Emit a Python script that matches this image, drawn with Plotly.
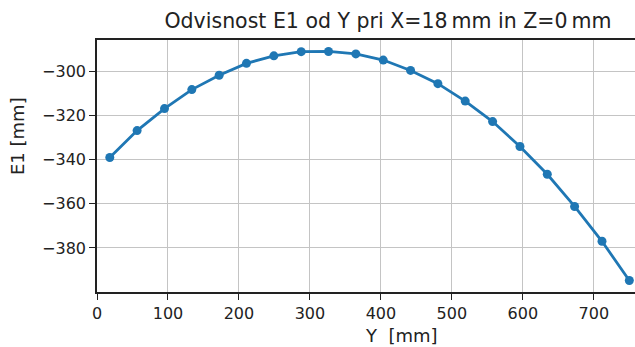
import plotly.graph_objects as go

# Positions along Y [mm] and the measured E1 [mm] values
y_pos = [18.0, 56.5, 95.1, 133.6, 172.1, 210.6, 249.2, 287.7, 326.2, 364.7,
         403.3, 441.8, 480.3, 518.8, 557.4, 595.9, 634.4, 672.9, 711.5, 750.0]
e1 = [-339.0, -326.8, -316.8, -308.2, -301.7, -296.3, -292.9, -291.0, -290.9, -292.0,
      -294.8, -299.5, -305.5, -313.4, -322.7, -334.0, -346.6, -361.2, -377.0, -394.8]

x_ticks = [0, 100, 200, 300, 400, 500, 600, 700]
y_ticks = [-300, -320, -340, -360, -380]

title_text = "Odvisnost E1 od Y pri X=18\u2009mm in Z=0\u2009mm"
x_label = "Y\u00a0 [mm]"
y_label = "E1 [mm]"

FONT = "DejaVu Sans"
BLUE = "#1f77b4"

fig = go.Figure(
    go.Scatter(
        x=y_pos, y=e1, mode="lines+markers",
        line=dict(color=BLUE, width=2.8),
        marker=dict(color=BLUE, size=9),
        cliponaxis=False,
    )
)

fig.update_layout(
    width=635, height=347,
    margin=dict(l=97, r=0, t=40, b=55),
    paper_bgcolor="white", plot_bgcolor="white",
    showlegend=False,
    font=dict(family=FONT, size=16, color="#222"),
    title=dict(text=title_text, x=388 / 635, y=1 - 21 / 347,
               xanchor="center", yanchor="middle",
               font=dict(family=FONT, size=20.5, color="#222")),
    annotations=[
        dict(text=x_label, xref="paper", yref="paper", x=(401 - 97) / 538, y=(292 - 335) / 252,
             xanchor="center", yanchor="middle", showarrow=False,
             font=dict(family=FONT, size=18, color="#222")),
        dict(text=y_label, xref="paper", yref="paper", x=(17 - 97) / 538, y=(292 - 136) / 252,
             xanchor="center", yanchor="middle", showarrow=False, textangle=-90,
             font=dict(family=FONT, size=18, color="#222")),
    ],
)

fig.update_xaxes(
    range=[0, 758], tickvals=x_ticks, ticktext=[str(v) for v in x_ticks],
    showgrid=True, gridcolor="#c4c4c4", gridwidth=1,
    showline=True, linecolor="#222", linewidth=1.5, mirror=True,
    ticks="outside", ticklen=6, tickcolor="#222", zeroline=False,
    tickfont=dict(family=FONT, size=16, color="#222"),
)
fig.update_yaxes(
    range=[-400.0, -285.7], tickvals=y_ticks, ticktext=[f"\u2212{abs(v)}" for v in y_ticks],
    showgrid=True, gridcolor="#c4c4c4", gridwidth=1,
    showline=True, linecolor="#222", linewidth=1.5, mirror=False,
    ticks="outside", ticklen=6, tickcolor="#222", zeroline=False,
    tickfont=dict(family=FONT, size=16, color="#222"),
)

fig.write_html("out.html")
